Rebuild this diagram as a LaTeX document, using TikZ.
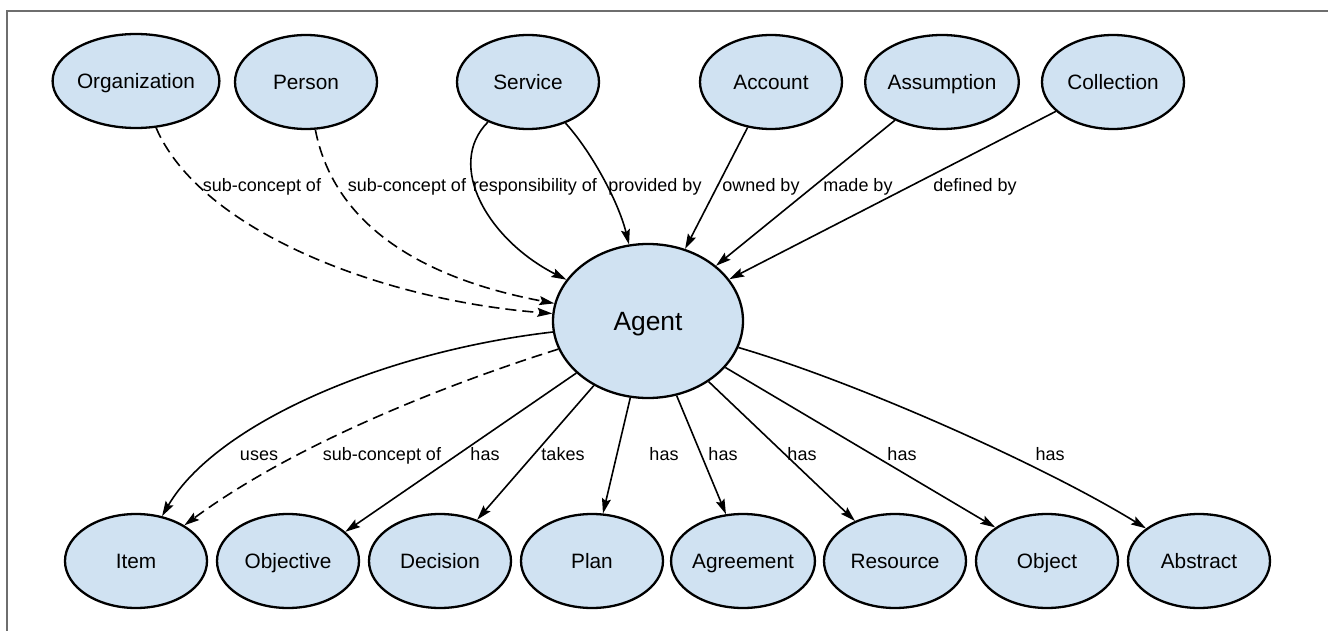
\documentclass[tikz,border=0pt]{standalone}
\usepackage{fontspec}
\setmainfont{Liberation Sans}
\usetikzlibrary{arrows.meta,shapes.geometric}
\definecolor{nodefill}{RGB}{208,226,242}
\definecolor{framegray}{RGB}{110,110,110}
\begin{document}
\begin{tikzpicture}[x=1pt,y=-1pt,
  concept/.style={ellipse,draw=black,line width=2.3pt,fill=nodefill,
    minimum width=142pt,minimum height=94pt,inner sep=0pt,
    text height=15pt,text depth=0pt,font=\fontsize{20.8}{24}\selectfont},
  bigconcept/.style={concept,minimum width=190pt,minimum height=154pt,
    text height=19pt,font=\fontsize{26.4}{30}\selectfont},
  rel/.style={line width=1.6pt,-{Stealth[length=15pt,width=9pt,inset=2.5pt]}},
  sub/.style={rel,dash pattern=on 11pt off 6pt},
  lbl/.style={font=\fontsize{18}{21}\selectfont,inner sep=0pt,anchor=base}
]
\useasboundingbox (0,0) rectangle (1328,631);
\draw[framegray,line width=1.5pt] (7,660) -- (7,11) -- (1360,11);

% top row
\node[concept] (org) at (136,81) {Organization};
\node[concept] (person) at (306,82) {Person};
\node[concept] (service) at (528,82) {Service};
\node[concept] (account) at (771,82) {Account};
\node[concept] (assumption) at (942,82) {Assumption};
\node[concept] (collection) at (1113,82) {Collection};
% centre
\node[bigconcept] (agent) at (648,321) {Agent};
% bottom row
\node[concept] (item) at (136,561) {Item};
\node[concept] (objective) at (288,561) {Objective};
\node[concept] (decision) at (440,561) {Decision};
\node[concept] (plan) at (592,561) {Plan};
\node[concept] (agreement) at (743,561) {Agreement};
\node[concept] (resource) at (895,561) {Resource};
\node[concept] (object) at (1047,561) {Object};
\node[concept] (abstract) at (1199,561) {Abstract};

% top connectors
\draw[sub] (org) .. controls (200,230) and (380,300) .. (agent);
\draw[sub] (person) .. controls (335,230) and (430,280) .. (agent);
\draw[rel] (service) .. controls (445,165) and (488,240) .. (agent);
\draw[rel] (service) .. controls (590,150) and (618,200) .. (agent);
\draw[rel] (account) -- (agent);
\draw[rel] (assumption) -- (agent);
\draw[rel] (collection) -- (agent);

% bottom connectors
\draw[rel] (agent) .. controls (380,352) and (215,425) .. (item);
\draw[sub] (agent) .. controls (460,380) and (300,440) .. (item);
\draw[rel] (agent.216) -- (objective.27);
\draw[rel] (agent.230) -- (decision.48);
\draw[rel] (agent.257) -- (plan.77);
\draw[rel] (agent.291) -- (agreement.110);
\draw[rel] (agent.315) -- (resource.135);
\draw[rel] (agent.329) -- (object.147);
\draw[rel] (agent) .. controls (856,382) and (1043,465) .. (abstract);

% top labels
\node[lbl] (l1) at (262,192) {sub-concept of};
\node[lbl] (l2) at (407,192) {sub-concept of};
\node[lbl] (l3) at (535,192) {responsibility of};
\node[lbl] (l4) at (655,192) {provided by};
\node[lbl] (l5) at (761,192) {owned by};
\node[lbl] (l6) at (858,192) {made by};
\node[lbl] (l7) at (975,192) {defined by};

% bottom labels
\node[lbl] (b1) at (259,460) {uses};
\node[lbl] (b2) at (382,460) {sub-concept of};
\node[lbl] (b3) at (485,460) {has};
\node[lbl] (b4) at (563,460) {takes};
\node[lbl] (b5) at (664,460) {has};
\node[lbl] (b6) at (723,460) {has};
\node[lbl] (b7) at (802,460) {has};
\node[lbl] (b8) at (902,460) {has};
\node[lbl] (b9) at (1050,460) {has};
\end{tikzpicture}
\end{document}
